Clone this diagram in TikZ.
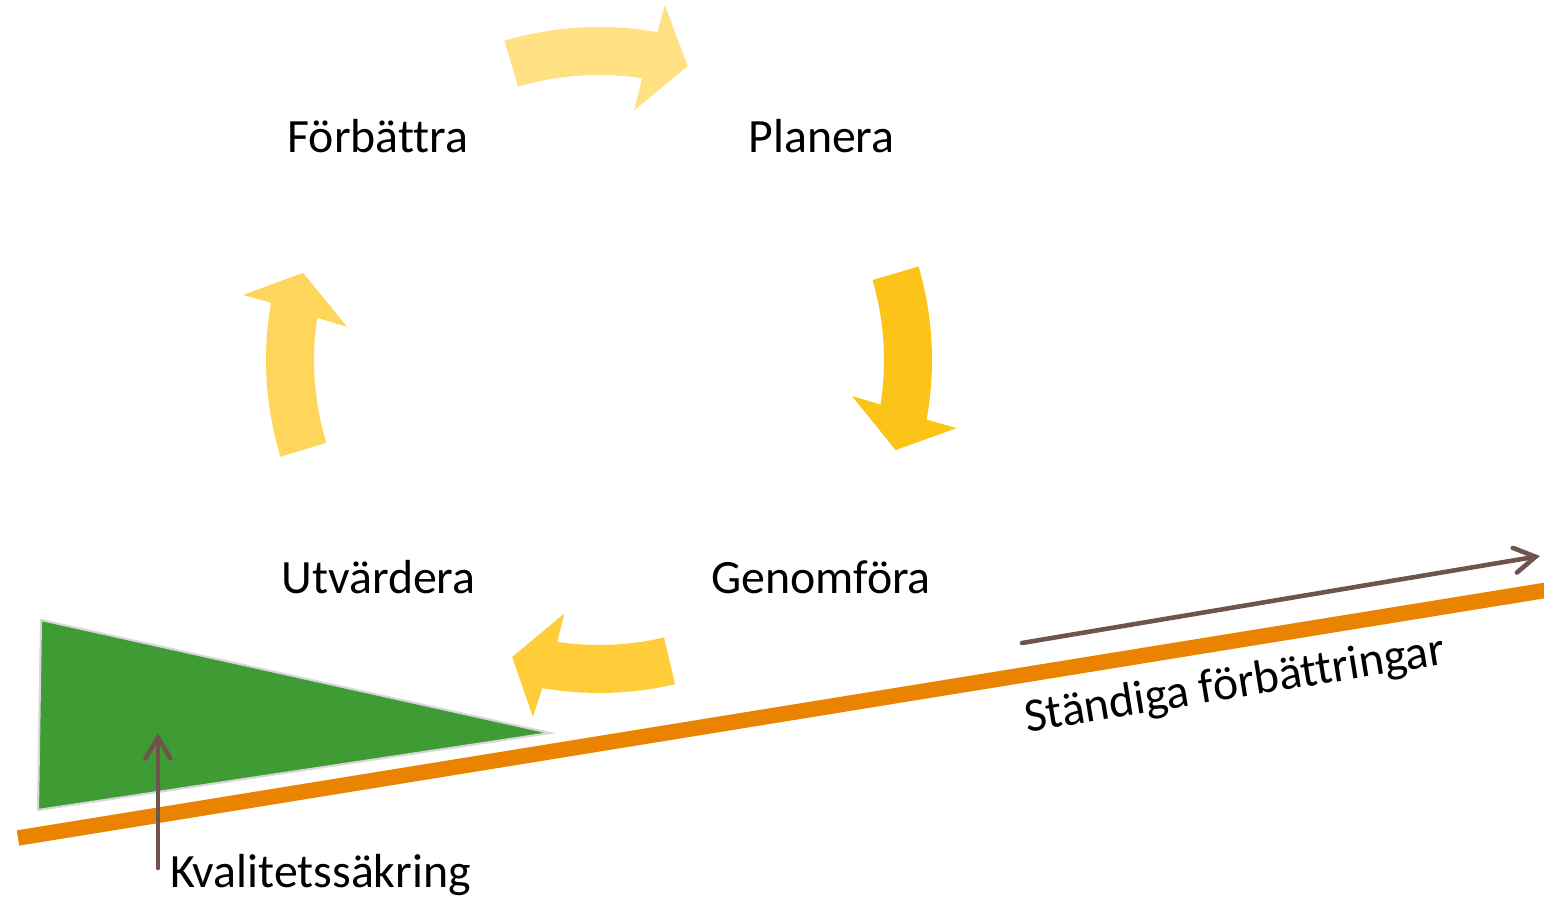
\documentclass[tikz,border=0pt]{standalone}
\usepackage{fontspec}
\setmainfont{Carlito}[Ligatures=CommonOff, RawFeature=-calt, RawFeature=-dlig]
\usetikzlibrary{arrows.meta}
\definecolor{ljusgul}{RGB}{255,224,131}
\definecolor{djupgul}{RGB}{252,196,25}
\definecolor{mellangul}{RGB}{255,205,58}
\definecolor{varmgul}{RGB}{255,214,91}
\definecolor{gron}{RGB}{63,156,53}
\definecolor{kant}{RGB}{214,214,214}
\definecolor{orange}{RGB}{233,131,0}
\definecolor{brun}{RGB}{110,84,76}

\begin{document}
\begin{tikzpicture}[
    stage/.style={font=\fontsize{13.6}{16}\selectfont, anchor=base},
    brunpil/.style={draw=brun, line width=1.3pt, line cap=round,
        -{Straight Barb[length=0.21cm, width=0.25cm, line cap=round]}}
  ]
				\useasboundingbox (0, 0) rectangle (15.44, 8.98);
				% the four stages of the cycle
				\node[stage] (forbattra) at (3.78, 7.45) {Förbättra};
				\node[stage] (planera) at (8.215, 7.45) {Planera};
				\node[stage] (genomfora) at (8.21, 3.04) {Genomföra};
				\node[stage] (utvardera) at (3.785, 3.04) {Utvärdera};
				% curved block arrows round the centre of the cycle
				\begin{scope}[shift={(5.99, 5.38)}]
					\fill[ljusgul] (106.5:3.33) arc[start angle=106.5, end angle=79.9, radius=3.33] -- (79.5:3.61) -- (73.2:3.07) -- (82.0:2.52) -- (81.3:2.85) arc[start angle=81.3, end angle=106.5, radius=2.85] -- cycle;
					\fill[djupgul] (16.3:3.33) arc[start angle=16.3, end angle=-10.3, radius=3.33] -- (-10.8:3.64) -- (-16.9:3.10) -- (-8.1:2.555) -- (-9.0:2.85) arc[start angle=-9.0, end angle=16.3, radius=2.85] -- cycle;
					\fill[mellangul] (-76.8:3.33) arc[start angle=-76.8, end angle=-99.8, radius=3.33] -- (-100.5:3.63) -- (-106.3:3.095) -- (-97.8:2.56) -- (-98.4:2.85) arc[start angle=-98.4, end angle=-76.8, radius=2.85] -- cycle;
					\fill[varmgul] (196.9:3.33) arc[start angle=196.9, end angle=170.1, radius=3.33] -- (169.65:3.62) -- (163.6:3.085) -- (172.5:2.54) -- (171.5:2.85) arc[start angle=171.5, end angle=196.9, radius=2.85] -- cycle;
				\end{scope}
				% quality wedge and the rising line
				\draw[kant, fill=gron, line width=0.6pt] (0.41, 2.78) -- (5.50, 1.65) -- (0.38, 0.88) -- cycle;
				\draw[orange, line width=0.155cm] (0.18, 0.60) -- (15.60, 3.10);
				\coordinate (trendstart) at (10.22, 2.55);
				\coordinate (trendslut) at (15.40, 3.42);
				\draw[brunpil] (trendstart) -- (trendslut);
				\node[stage, anchor=base west, rotate=9.2] (standiga) at (10.15, 1.64) {Ständiga förbättringar};
				% label under the wedge
				\node[stage, anchor=base west] (kvalitet) at (1.58, 0.10) {Kvalitetssäkring};
				\coordinate (kvalfot) at (1.58, 0.30);
				\coordinate (kvaltopp) at (1.58, 1.65);
				\draw[brunpil] (kvalfot) -- (kvaltopp);
			\end{tikzpicture}
\end{document}
